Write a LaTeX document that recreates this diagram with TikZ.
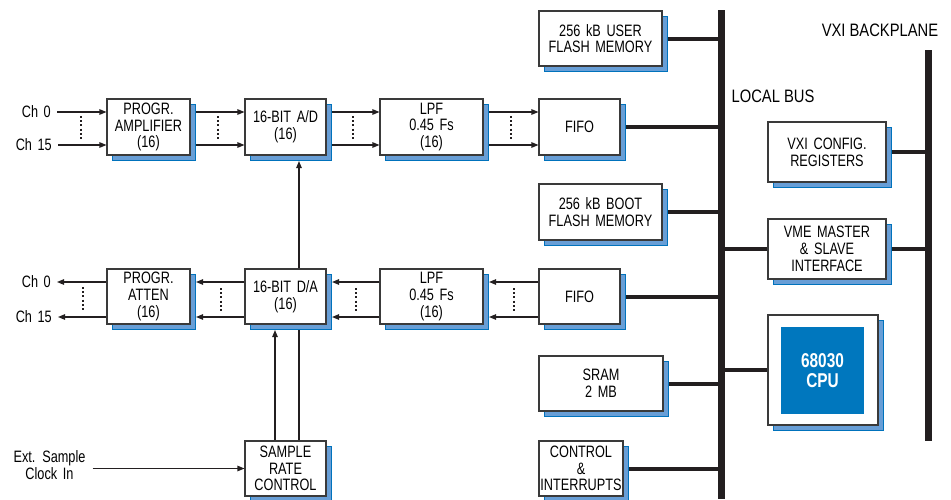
\documentclass[tikz,border=0pt]{standalone}
\usepackage{fontspec}
\setmainfont[FakeStretch=0.77, WordSpace=1.6]{Liberation Sans}
\newfontfamily\lblfont[FakeStretch=0.82]{Liberation Sans}
\usetikzlibrary{arrows.meta, calc, shadows, backgrounds}
\definecolor{shfill}{RGB}{104,158,214}
\definecolor{shedge}{RGB}{0,114,188}
\definecolor{cpublue}{RGB}{0,119,190}
\definecolor{boxgray}{RGB}{58,58,58}
\definecolor{wire}{RGB}{35,31,32}

\begin{document}
\begin{tikzpicture}[x=1pt, y=-1pt,
  blk/.style={draw=boxgray, line width=1.1pt, fill=white, align=center, inner sep=0pt,
    font=\fontsize{16.5pt}{16.8pt}\selectfont,
    drop shadow={shadow xshift=5.5pt, shadow yshift=-5.5pt, fill=shfill, draw=shedge, line width=0.9pt, opacity=1}},
  sig/.style={-{Triangle[length=7pt, width=5.5pt]}, line width=1.1pt, draw=wire},
  ln/.style={line width=1.1pt, draw=wire},
  dts/.style={line width=2pt, dash pattern=on 2pt off 2.2pt, draw=wire},
  link/.style={line width=4pt, draw=wire},
  bus/.style={line width=7pt, draw=wire},
  txt/.style={font=\fontsize{16.5pt}{16.5pt}\selectfont, align=center, inner sep=0pt},
  lbl/.style={font=\lblfont\fontsize{18pt}{20pt}\selectfont, inner sep=0pt}]
  \useasboundingbox (0,0) rectangle (951,499);

  \coordinate (lbt) at (721,10);
  \coordinate (lbb) at (721,499);
  \coordinate (bpt) at (928,50);
  \coordinate (bpb) at (928,441);
  \draw[bus] (lbt) -- (lbb);
  \draw[bus] (bpt) -- (bpb);
  \node[lbl] (lbus) at (773,96) {LOCAL BUS};
  \node[lbl] (vxibp) at (880,30) {VXI BACKPLANE};

  \node[blk, minimum width=83pt, minimum height=56pt] (amp) at (148.5,127) {PROGR.\\AMPLIFIER\\(16)};
  \node[blk, minimum width=81pt, minimum height=56pt] (adc) at (285.5,127) {16-BIT A/D\\(16)};
  \node[blk, minimum width=103pt, minimum height=56pt] (lpfa) at (431.5,127) {LPF\\0.45 Fs\\(16)};
  \node[blk, minimum width=81pt, minimum height=56pt] (fifoa) at (579.5,127) {FIFO};

  \node[blk, minimum width=83pt, minimum height=55pt] (att) at (148.5,296.5) {PROGR.\\ATTEN\\(16)};
  \node[blk, minimum width=81pt, minimum height=55pt] (dac) at (285.5,296.5) {16-BIT D/A\\(16)};
  \node[blk, minimum width=103pt, minimum height=55pt] (lpfb) at (431.5,296.5) {LPF\\0.45 Fs\\(16)};
  \node[blk, minimum width=81pt, minimum height=55pt] (fifob) at (579.5,296.5) {FIFO};

  \node[blk, minimum width=81pt, minimum height=55pt] (src) at (285.5,468.5) {SAMPLE\\RATE\\CONTROL};

  \node[blk, minimum width=123pt, minimum height=55pt] (uflash) at (600.5,38.5) {256 kB USER\\FLASH MEMORY};
  \node[blk, minimum width=123pt, minimum height=56pt] (bflash) at (600.5,212) {256 kB BOOT\\FLASH MEMORY};
  \node[blk, minimum width=124pt, minimum height=55pt] (sram) at (601,383.5) {SRAM\\2 MB};
  \node[blk, minimum width=84pt, minimum height=55pt] (ctrl) at (581,468.5) {CONTROL\\\&\\INTERRUPTS};

  \node[blk, minimum width=118pt, minimum height=60pt] (vxicfg) at (827,152) {VXI CONFIG.\\REGISTERS};
  \node[blk, minimum width=118pt, minimum height=60pt] (vme) at (827,249) {VME MASTER\\\& SLAVE\\INTERFACE};
  \node[blk, minimum width=110pt, minimum height=110pt] (cpu) at (823,370) {};
  \node[fill=cpublue, minimum width=83pt, minimum height=87pt, inner sep=0pt, align=center,
    text=white, font=\bfseries\fontsize{20pt}{20pt}\selectfont] (core) at (822.5,370.5) {68030\\CPU};

  \begin{scope}[on background layer]
    \foreach \m in {uflash, fifoa, bflash, fifob, sram, ctrl, cpu}
      \draw[link] (\m) -- (\m -| lbt);
    \draw[link] (vme -| lbt) -- (vme -| bpt);
    \draw[link] (vxicfg) -- (vxicfg -| bpt);
  \end{scope}

  \node[txt, anchor=east] (ci0) at (51,112) {Ch 0};
  \node[txt, anchor=east] (ci15) at (52,145) {Ch 15};
  \node[txt, anchor=east] (co0) at (51,282) {Ch 0};
  \node[txt, anchor=east] (co15) at (52,317) {Ch 15};
  \node[txt] (ext) at (49.5,465) {Ext. Sample\\Clock In};

  \draw[sig, shorten <=6pt] (ci0.east) -- (ci0 -| amp.west);
  \draw[sig, shorten <=6pt] (ci15.east) -- (ci15 -| amp.west);
  \draw[dts] ($(ci0.east)!0.5!(ci0 -| amp.west)+(2,4)$) -- ++(0,24);
  \draw[sig, shorten >=6pt] (co0 -| att.west) -- (co0.east);
  \draw[sig, shorten >=6pt] (co15 -| att.west) -- (co15.east);
  \draw[dts] ($(co0.east)!0.5!(co0 -| att.west)+(4,5)$) -- ++(0,24);

  \foreach \a/\b in {amp/adc, adc/lpfa, lpfa/fifoa} {
    \draw[sig] ([xshift=5.5pt, yshift=15pt]\a.east) -- ([yshift=15pt]\b.west);
    \draw[sig] ([xshift=5.5pt, yshift=-18pt]\a.east) -- ([yshift=-18pt]\b.west);
    \draw[dts] ($(\a.east)!0.5!(\b.west)+(0,-11)$) -- ++(0,24);
  }
  \foreach \a/\b in {dac/att, lpfb/dac, fifob/lpfb} {
    \draw[sig] ([yshift=14.5pt]\a.west) -- ([xshift=5.5pt, yshift=14.5pt]\b.east);
    \draw[sig] ([yshift=-20.5pt]\a.west) -- ([xshift=5.5pt, yshift=-20.5pt]\b.east);
    \draw[dts] ($(\a.west)!0.5!(\b.east)+(3,-8.5)$) -- ++(0,24);
  }

  \draw[sig] ([xshift=-10.5pt]src.north) -- ([xshift=-10.5pt, yshift=-5.5pt]dac.south);
  \draw[ln] ([xshift=13.5pt]src.north) -- ([xshift=13.5pt, yshift=-5.5pt]dac.south);
  \draw[sig] ([xshift=13.5pt]dac.north) -- ([xshift=13.5pt, yshift=-5.5pt]adc.south);
  \draw[sig, shorten <=7pt] (ext.east |- src.west) -- (src.west);
\end{tikzpicture}
\end{document}
